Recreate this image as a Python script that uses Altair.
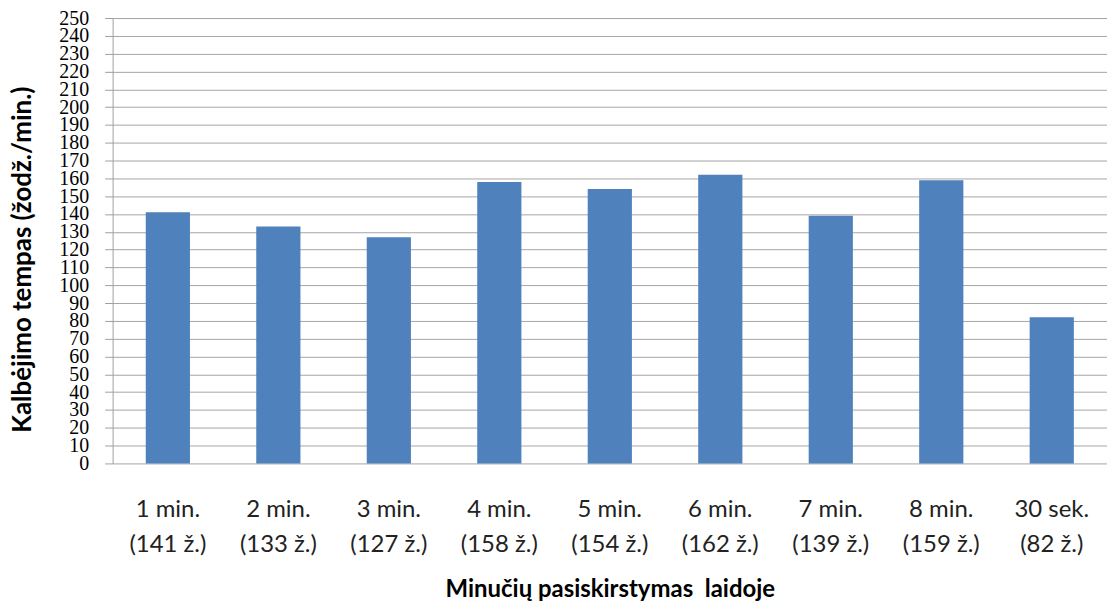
import altair as alt
import pandas as pd

periods = ["1 min.", "2 min.", "3 min.", "4 min.", "5 min.", "6 min.", "7 min.", "8 min.", "30 sek."]
words = [141, 133, 127, 158, 154, 162, 139, 159, 82]
tempo = [141, 133, 127, 158, 154, 162, 139, 159, 82]
y_ticks = list(range(0, 251, 10))

cats = [f"{p}|({w} ž.)" for p, w in zip(periods, words)]
df = pd.DataFrame({"cat": cats, "tempo": tempo})

chart = alt.Chart(df).mark_bar(color="#4F81BD").encode(
    x=alt.X("cat:N", sort=cats,
            scale=alt.Scale(paddingInner=0.6, paddingOuter=0.3),
            axis=alt.Axis(title="Minučių pasiskirstymas\u00a0 laidoje",
                          labelExpr="split(datum.label, '|')",
                          labelAngle=0, labelFont="Lato", labelFontSize=24,
                          labelColor="#222222", labelLineHeight=35,
                          labelBaseline="alphabetic",
                          labelPadding=53, ticks=False, domain=False,
                          titleFont="Lato", titleFontSize=24, titleFontWeight="bold",
                          titleColor="#000000", titleY=134, titleBaseline="alphabetic")),
    y=alt.Y("tempo:Q", scale=alt.Scale(domain=[0, 250], nice=False),
            axis=alt.Axis(title="Kalbėjimo tempas (žodž./min.)", values=y_ticks,
                          labelOverlap=False, labelFont="Liberation Serif",
                          labelFontSize=20, labelColor="#000000", labelPadding=16,
                          tickSize=8, tickColor="#A0A0A0", domainColor="#A0A0A0",
                          gridColor="#A6A6A6", titleFont="Lato", titleFontSize=26,
                          titleFontWeight="bold", titleColor="#000000",
                          titleX=-90, titleY=242, titleBaseline="middle")),
).properties(
    width=998, height=447,
    autosize=alt.AutoSizeParams(type="none"),
    padding={"left": 105, "top": 9, "right": 0, "bottom": 138},
).configure_view(stroke=None).configure_axis(gridWidth=1)

chart.save("out.html", embed_options={"renderer": "svg", "actions": False})
